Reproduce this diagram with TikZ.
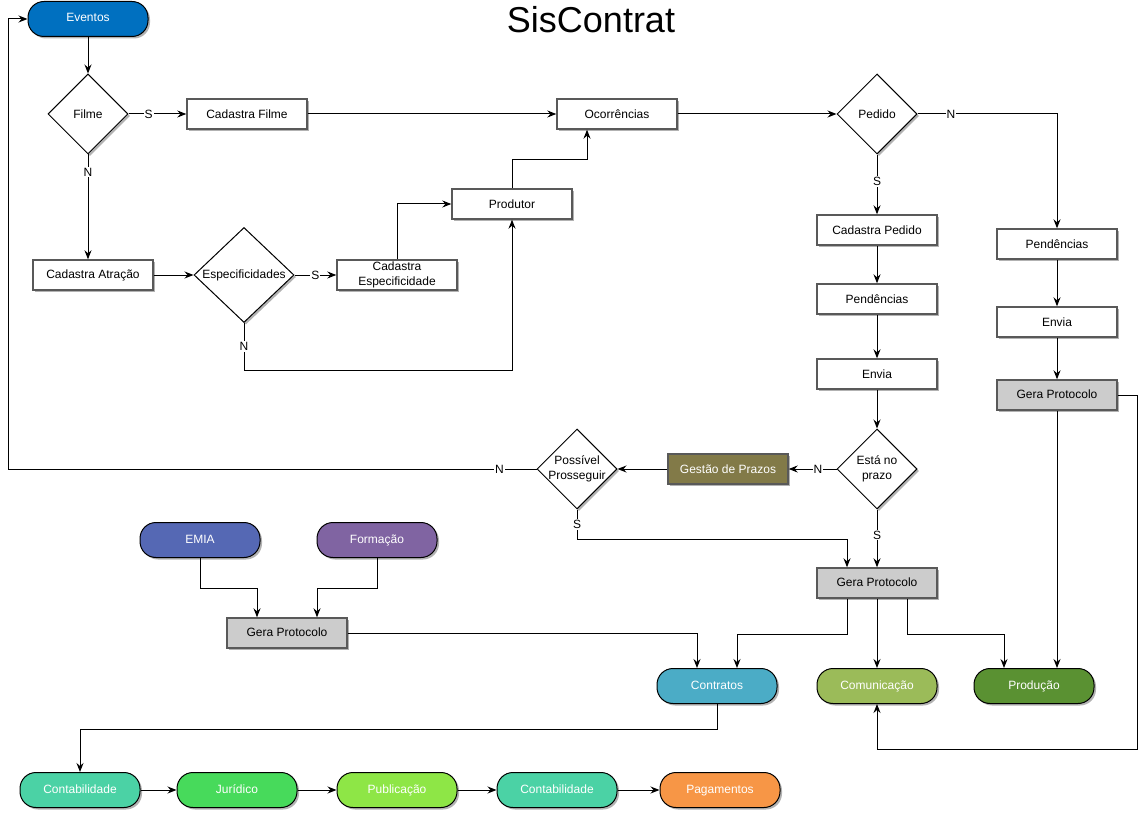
\documentclass[tikz,border=0pt]{standalone}
\usepackage{fontspec}
\setmainfont{Liberation Sans}
\usetikzlibrary{shapes.geometric,arrows.meta,shadows,calc}
\definecolor{cEventos}{RGB}{0,112,192}
\definecolor{cGestao}{RGB}{130,122,72}
\definecolor{cGera}{RGB}{204,204,204}
\definecolor{cEmia}{RGB}{85,104,180}
\definecolor{cForm}{RGB}{128,100,162}
\definecolor{cContr}{RGB}{75,172,198}
\definecolor{cComun}{RGB}{155,187,89}
\definecolor{cProd}{RGB}{90,145,50}
\definecolor{cContab}{RGB}{75,210,165}
\definecolor{cJur}{RGB}{71,218,91}
\definecolor{cPub}{RGB}{142,230,70}
\definecolor{cPag}{RGB}{247,150,70}
\begin{document}
\begin{tikzpicture}[x=1pt,y=-1pt,
  every node/.style={font=\fontsize{12}{14}\selectfont},
  shad/.style={drop shadow={shadow xshift=2pt,shadow yshift=-2pt,opacity=0.3,fill=black}},
  proc/.style={shad,draw=black!65,line width=1.4pt,fill=white,minimum width=120pt,minimum height=30pt,inner sep=1pt,align=center},
  gera/.style={proc,fill=cGera,text height=9pt,text depth=3pt},
  pill/.style={shad,draw=black,line width=1pt,rounded corners=16pt,minimum width=120pt,minimum height=35pt,inner sep=1pt,text=white,text height=9pt,text depth=3pt},
  dec/.style={shad,draw=black,line width=1pt,fill=white,diamond,minimum width=80pt,minimum height=80pt,inner sep=0pt},
  arr/.style={draw=black,line width=1pt,-{Stealth[length=9pt,width=7pt,inset=3pt]}},
  lab/.style={fill=white,inner sep=1pt,font=\fontsize{12}{14}\selectfont}]
\useasboundingbox (0,0) rectangle (1146,813);

\node (title) at (591,20) {\fontsize{36}{40}\selectfont SisContrat};

% top row
\node[pill,fill=cEventos] (eventos) at (88,19) {Eventos};
\node[dec,label={center:Filme}] (filme) at (88,114) {};
\node[proc] (cadfilme) at (247,114) {Cadastra Filme};
\node[proc] (ocor) at (617,114) {Ocorrências};
\node[dec,label={center:Pedido}] (pedido) at (877,114) {};

% left middle
\node[proc] (cadatr) at (93,275) {Cadastra Atração};
\node[dec,minimum width=100pt,minimum height=95pt,label={center:Especificidades}] (espec) at (244,275) {};
\node[proc] (cadesp) at (397,275) {Cadastra\\[1pt]Especificidade};
\node[proc] (produtor) at (512,204) {Produtor};

% right columns
\node[proc] (cadped) at (877,230) {Cadastra Pedido};
\node[proc] (pend1) at (877,299) {Pendências};
\node[proc] (envia1) at (877,374) {Envia};
\node[dec,label={[align=center]center:Está no\\[1pt]prazo}] (prazo) at (877,469) {};
\node[proc,fill=cGestao,text=white] (gestao) at (728,469) {Gestão de Prazos};
\node[dec,label={[align=center]center:Possível\\[1pt]Prosseguir}] (possivel) at (577,469) {};
\node[gera] (gp) at (877,583) {Gera Protocolo};

\node[proc] (pend2) at (1057,244) {Pendências};
\node[proc] (envia2) at (1057,322) {Envia};
\node[gera] (gp2) at (1057,395) {Gera Protocolo};

% lower left
\node[pill,fill=cEmia] (emia) at (200,540) {EMIA};
\node[pill,fill=cForm] (form) at (377,540) {Formação};
\node[gera] (gpl) at (287,633) {Gera Protocolo};

% departments
\node[pill,fill=cContr] (contr) at (717,686) {Contratos};
\node[pill,fill=cComun] (comun) at (877,686) {Comunicação};
\node[pill,fill=cProd] (prod) at (1034,686) {Produção};

% bottom chain
\node[pill,fill=cContab] (cont1) at (80,790) {Contabilidade};
\node[pill,fill=cJur] (jur) at (237,790) {Jurídico};
\node[pill,fill=cPub] (pub) at (397,790) {Publicação};
\node[pill,fill=cContab] (cont2) at (557,790) {Contabilidade};
\node[pill,fill=cPag] (pag) at (720,790) {Pagamentos};

% waypoints
\coordinate (wEspN) at (244,370);
\coordinate (wLeft) at (8,469);
\coordinate (wPosS) at (577,539);
\coordinate (wRight) at (1137,749);

% connectors
\draw[arr] (eventos) -- (filme);
\draw[arr] (filme) -- node[lab,pos=0.35]{S} (cadfilme);
\draw[arr] (filme.south) -- node[lab,pos=0.17]{N} (filme.south |- cadatr.north);
\draw[arr] (cadfilme) -- (ocor);
\draw[arr] (cadatr) -- (espec);
\draw[arr] (espec) -- node[lab]{S} (cadesp);
\draw[arr] (cadesp.north) |- (produtor.west);
\draw[arr] (espec.south) -- node[lab]{N} (wEspN) -| (produtor.south);
\draw[arr] (produtor.north) -- ++(0,-29) -| ($(ocor.south)+(-30,0)$);
\draw[arr] (ocor) -- (pedido);
\draw[arr] (pedido.east) -| node[lab,pos=0.12]{N} (pend2.north);
\draw[arr] (pedido) -- node[lab,pos=0.45]{S} (cadped);
\draw[arr] (cadped) -- (pend1);
\draw[arr] (pend1) -- (envia1);
\draw[arr] (envia1) -- (prazo);
\draw[arr] (prazo) -- node[lab,pos=0.39]{N} (gestao);
\draw[arr] (gestao) -- (possivel);
\draw[arr] (possivel.west) -- node[lab,pos=0.07]{N} (wLeft) |- (eventos.west);
\draw[arr] (possivel.south) -- node[lab]{S} (wPosS) -| ($(gp.north)+(-30,0)$);
\draw[arr] (prazo) -- node[lab,pos=0.44]{S} (gp);
\draw[arr] (pend2) -- (envia2);
\draw[arr] (envia2) -- (gp2);
\draw[arr] (gp2.east) -| (wRight) -| (comun.south);
\draw[arr] (gp2.south) -- (gp2.south |- prod.north);
\draw[arr] (emia.south) -- ++(0,30) -| ($(gpl.north)+(-30,0)$);
\draw[arr] (form.south) -- ++(0,30) -| ($(gpl.north)+(30,0)$);
\draw[arr] (gpl.east) -| ($(contr.north)+(-20,0)$);
\draw[arr] ($(gp.south)+(-30,0)$) -- ++(0,36) -| ($(contr.north)+(20,0)$);
\draw[arr] (gp) -- (comun);
\draw[arr] ($(gp.south)+(30,0)$) -- ++(0,36) -| ($(prod.north)+(-30,0)$);
\draw[arr] (contr.south) -- ++(0,25) -| (cont1.north);
\draw[arr] (cont1) -- (jur);
\draw[arr] (jur) -- (pub);
\draw[arr] (pub) -- (cont2);
\draw[arr] (cont2) -- (pag);
\end{tikzpicture}
\end{document}
